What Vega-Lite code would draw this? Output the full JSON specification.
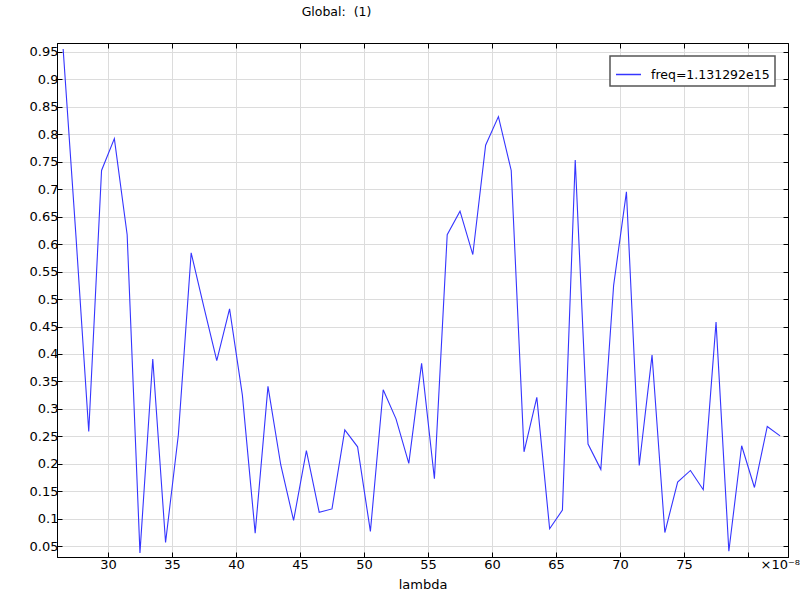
{
  "$schema": "https://vega.github.io/schema/vega-lite/v6.json",
  "autosize": "none",
  "width": 731,
  "height": 514,
  "padding": {"left": 57, "top": 43, "right": 12, "bottom": 43},
  "background": "white",
  "title": {"text": "Global:\u00a0 (1)", "anchor": "middle", "dx": -86, "offset": 24, "font": "DejaVu Sans", "fontSize": 12.5, "fontWeight": "normal", "color": "#000"},
  "config": {
    "view": {"stroke": "black", "strokeWidth": 1},
    "font": "DejaVu Sans",
    "axis": {"domainColor": "black", "tickColor": "black", "gridColor": "#dcdcdc", "labelFont": "DejaVu Sans", "labelFontSize": 13, "labelColor": "#000", "titleFont": "DejaVu Sans", "titleFontSize": 13, "titleFontWeight": "normal", "titleColor": "#000"},
    "legend": {"strokeWidth": 1.5}
  },
  "data": {"values": [
    {"lambda": 26.5, "value": 0.955, "series": "freq=1.131292e15"},
    {"lambda": 27.5, "value": 0.615, "series": "freq=1.131292e15"},
    {"lambda": 28.5, "value": 0.259, "series": "freq=1.131292e15"},
    {"lambda": 29.5, "value": 0.734, "series": "freq=1.131292e15"},
    {"lambda": 30.5, "value": 0.792, "series": "freq=1.131292e15"},
    {"lambda": 31.5, "value": 0.617, "series": "freq=1.131292e15"},
    {"lambda": 32.5, "value": 0.038, "series": "freq=1.131292e15"},
    {"lambda": 33.5, "value": 0.391, "series": "freq=1.131292e15"},
    {"lambda": 34.5, "value": 0.057, "series": "freq=1.131292e15"},
    {"lambda": 35.5, "value": 0.253, "series": "freq=1.131292e15"},
    {"lambda": 36.5, "value": 0.584, "series": "freq=1.131292e15"},
    {"lambda": 37.5, "value": 0.485, "series": "freq=1.131292e15"},
    {"lambda": 38.5, "value": 0.388, "series": "freq=1.131292e15"},
    {"lambda": 39.5, "value": 0.482, "series": "freq=1.131292e15"},
    {"lambda": 40.5, "value": 0.325, "series": "freq=1.131292e15"},
    {"lambda": 41.5, "value": 0.074, "series": "freq=1.131292e15"},
    {"lambda": 42.5, "value": 0.341, "series": "freq=1.131292e15"},
    {"lambda": 43.5, "value": 0.198, "series": "freq=1.131292e15"},
    {"lambda": 44.5, "value": 0.097, "series": "freq=1.131292e15"},
    {"lambda": 45.5, "value": 0.224, "series": "freq=1.131292e15"},
    {"lambda": 46.5, "value": 0.112, "series": "freq=1.131292e15"},
    {"lambda": 47.5, "value": 0.118, "series": "freq=1.131292e15"},
    {"lambda": 48.5, "value": 0.262, "series": "freq=1.131292e15"},
    {"lambda": 49.5, "value": 0.231, "series": "freq=1.131292e15"},
    {"lambda": 50.5, "value": 0.077, "series": "freq=1.131292e15"},
    {"lambda": 51.5, "value": 0.335, "series": "freq=1.131292e15"},
    {"lambda": 52.5, "value": 0.282, "series": "freq=1.131292e15"},
    {"lambda": 53.5, "value": 0.201, "series": "freq=1.131292e15"},
    {"lambda": 54.5, "value": 0.383, "series": "freq=1.131292e15"},
    {"lambda": 55.5, "value": 0.173, "series": "freq=1.131292e15"},
    {"lambda": 56.5, "value": 0.617, "series": "freq=1.131292e15"},
    {"lambda": 57.5, "value": 0.660, "series": "freq=1.131292e15"},
    {"lambda": 58.5, "value": 0.581, "series": "freq=1.131292e15"},
    {"lambda": 59.5, "value": 0.780, "series": "freq=1.131292e15"},
    {"lambda": 60.5, "value": 0.832, "series": "freq=1.131292e15"},
    {"lambda": 61.5, "value": 0.734, "series": "freq=1.131292e15"},
    {"lambda": 62.5, "value": 0.222, "series": "freq=1.131292e15"},
    {"lambda": 63.5, "value": 0.321, "series": "freq=1.131292e15"},
    {"lambda": 64.5, "value": 0.082, "series": "freq=1.131292e15"},
    {"lambda": 65.5, "value": 0.116, "series": "freq=1.131292e15"},
    {"lambda": 66.5, "value": 0.753, "series": "freq=1.131292e15"},
    {"lambda": 67.5, "value": 0.236, "series": "freq=1.131292e15"},
    {"lambda": 68.5, "value": 0.190, "series": "freq=1.131292e15"},
    {"lambda": 69.5, "value": 0.525, "series": "freq=1.131292e15"},
    {"lambda": 70.5, "value": 0.695, "series": "freq=1.131292e15"},
    {"lambda": 71.5, "value": 0.197, "series": "freq=1.131292e15"},
    {"lambda": 72.5, "value": 0.398, "series": "freq=1.131292e15"},
    {"lambda": 73.5, "value": 0.075, "series": "freq=1.131292e15"},
    {"lambda": 74.5, "value": 0.167, "series": "freq=1.131292e15"},
    {"lambda": 75.5, "value": 0.188, "series": "freq=1.131292e15"},
    {"lambda": 76.5, "value": 0.153, "series": "freq=1.131292e15"},
    {"lambda": 77.5, "value": 0.458, "series": "freq=1.131292e15"},
    {"lambda": 78.5, "value": 0.041, "series": "freq=1.131292e15"},
    {"lambda": 79.5, "value": 0.233, "series": "freq=1.131292e15"},
    {"lambda": 80.5, "value": 0.157, "series": "freq=1.131292e15"},
    {"lambda": 81.5, "value": 0.268, "series": "freq=1.131292e15"},
    {"lambda": 82.5, "value": 0.251, "series": "freq=1.131292e15"}
  ]},
  "layer": [
    {
      "mark": {"type": "line", "strokeWidth": 1.1},
      "encoding": {
        "x": {"field": "lambda", "type": "quantitative",
          "scale": {"domain": [26.02, 83.12], "nice": false, "zero": false},
          "axis": {"orient": "bottom", "values": [30, 35, 40, 45, 50, 55, 60, 65, 70, 75, 80], "tickSize": -5, "labelPadding": 6,
            "labelExpr": "datum.value == 80 ? '×10⁻⁸' : datum.label",
            "labelAlign": {"condition": {"test": "datum.value == 80", "value": "left"}, "value": "center"},
            "labelOffset": {"condition": {"test": "datum.value == 80", "value": 12}, "value": 0},
            "title": "lambda", "titlePadding": 7, "grid": true}},
        "y": {"field": "value", "type": "quantitative",
          "scale": {"domain": [0.0305, 0.966], "nice": false, "zero": false},
          "axis": {"orient": "left", "values": [0.05, 0.1, 0.15, 0.2, 0.25, 0.3, 0.35, 0.4, 0.45, 0.5, 0.55, 0.6, 0.65, 0.7, 0.75, 0.8, 0.85, 0.9, 0.95], "format": "~g", "tickSize": -5, "labelPadding": 4, "title": null, "grid": true}},
        "color": {"field": "series", "type": "nominal", "scale": {"range": ["#3535ff"]},
          "legend": {"title": null, "orient": "top-right", "offset": 13, "strokeColor": "#555555", "fillColor": "white", "padding": 5, "symbolType": "stroke", "symbolSize": 625, "symbolStrokeWidth": 1.5, "labelFont": "DejaVu Sans", "labelFontSize": 12.5, "labelColor": "black", "labelOffset": 9, "cornerRadius": 0}}
      }
    },
    {
      "mark": {"type": "line", "opacity": 0},
      "encoding": {
        "x": {"field": "lambda", "type": "quantitative",
          "axis": {"orient": "top", "values": [30, 35, 40, 45, 50, 55, 60, 65, 70, 75, 80], "tickSize": -5, "labels": false, "title": null, "grid": false}},
        "y": {"field": "value", "type": "quantitative",
          "axis": {"orient": "right", "values": [0.05, 0.1, 0.15, 0.2, 0.25, 0.3, 0.35, 0.4, 0.45, 0.5, 0.55, 0.6, 0.65, 0.7, 0.75, 0.8, 0.85, 0.9, 0.95], "tickSize": -5, "labels": false, "title": null, "grid": false}}
      }
    }
  ],
  "resolve": {"axis": {"x": "independent", "y": "independent"}}
}
